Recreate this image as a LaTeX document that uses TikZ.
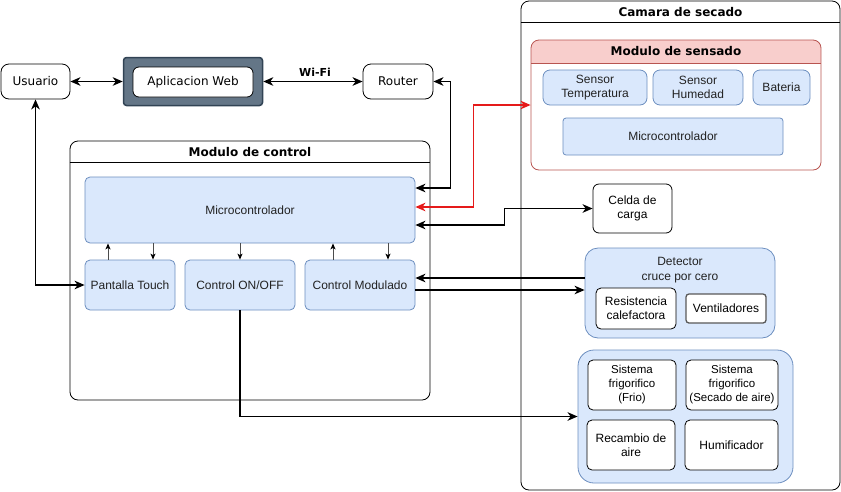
\documentclass[tikz,border=0pt]{standalone}
\usepackage{fontspec}
\setmainfont{Liberation Sans}
\newfontfamily\dvs{DejaVu Sans}
\usetikzlibrary{arrows.meta,positioning}

\definecolor{bluefill}{HTML}{DAE8FC}
\definecolor{blueline}{HTML}{6C8EBF}
\definecolor{pinkfill}{HTML}{F8CECC}
\definecolor{pinkline}{HTML}{B85450}
\definecolor{slatefill}{HTML}{647687}
\definecolor{slateline}{HTML}{314354}
\definecolor{txtgray}{HTML}{222222}
\definecolor{linkred}{HTML}{E51A1A}

\tikzset{
  blk/.style={draw=blueline, fill=bluefill, rounded corners=5, text=txtgray,
    font=\fontsize{12}{14}\selectfont, align=center, inner sep=0pt},
  wbox/.style={draw=black, fill=white, rounded corners=5,
    font=\fontsize{12}{14}\selectfont, align=center, inner sep=0pt},
  ext/.style={draw, fill=white, rounded corners=8,
    font=\dvs\fontsize{12}{14}\selectfont, inner sep=0pt},
  frame/.style={draw, rounded corners=8, inner sep=0pt},
  ttl/.style={font=\dvs\bfseries\fontsize{12}{14}\selectfont},
  conn/.style={line width=1.8pt},
  small/.style={draw=black!70, line width=1pt, -{Stealth[length=6pt,width=5pt,inset=1.5pt,black]}}
}

\begin{document}
\begin{tikzpicture}[x=1pt,y=-1pt,line width=0.8pt,>={Stealth[length=10pt,width=8.5pt,inset=3pt]}]
  \useasboundingbox (0,0) rectangle (841,491);

  % exterior
  \node[ext, minimum width=69, minimum height=35] (usr) at (35.5,81.5) {Usuario};
  \node[draw=slateline, fill=slatefill, line width=1.5pt, rounded corners=3,
        minimum width=139, minimum height=48] (app) at (193,81.5) {};
  \node[ext, rounded corners=6, minimum width=120, minimum height=30] (appin) at (193,82) {Aplicacion Web};
  \node[ext, minimum width=70, minimum height=35] (rt) at (398,81.5) {Router};
  \node[font=\dvs\bfseries\fontsize{11}{13}\selectfont] (wifi) at (315,72) {Wi-Fi};

  % modulo de control
  \node[frame, minimum width=360, minimum height=259] (ctl) at (250,270.5) {};
  \draw ([yshift=-22]ctl.north west) -- ([yshift=-22]ctl.north east);
  \node[ttl] (ctlt) at ([yshift=-11]ctl.north) {Modulo de control};
  \node[blk, minimum width=330, minimum height=66] (mc) at (250,210) {Microcontrolador};
  \node[blk, minimum width=90, minimum height=50] (pt) at (130,285) {Pantalla Touch};
  \node[blk, minimum width=110, minimum height=50] (onoff) at (240,285) {Control ON/OFF};
  \node[blk, minimum width=110, minimum height=50] (cm) at (360,285) {Control Modulado};

  % camara de secado
  \node[frame, minimum width=319, minimum height=489] (cam) at (680.5,245.5) {};
  \draw ([yshift=-22]cam.north west) -- ([yshift=-22]cam.north east);
  \node[ttl] (camt) at ([yshift=-11]cam.north) {Camara de secado};

  % modulo de sensado
  \begin{scope}
    \clip[rounded corners=8] (531,40) rectangle (821,170);
    \fill[pinkfill] (531,40) rectangle (821,63);
  \end{scope}
  \node[draw=pinkline, rounded corners=8, inner sep=0pt,
        minimum width=290, minimum height=130] (sens) at (676,105) {};
  \draw[pinkline] (531,63) -- (821,63);
  \node[ttl] (senst) at ([yshift=-11.5]sens.north) {Modulo de sensado};
  \node[blk, rounded corners=7, minimum width=104, minimum height=35] (st) at (595,87.5) {Sensor\\Temperatura};
  \node[blk, rounded corners=7, minimum width=90, minimum height=35] (sh) at (698,87.5) {Sensor\\Humedad};
  \node[blk, rounded corners=7, minimum width=57, minimum height=35] (bat) at (781.5,87.5) {Bateria};
  \node[blk, rounded corners=3, minimum width=220, minimum height=37] (smc) at (673,136.5) {Microcontrolador};

  \node[wbox, rounded corners=6, minimum width=79, minimum height=49] (celda) at (632.5,208.5) {Celda de\\carga};

  % detector
  \node[blk, rounded corners=13, minimum width=190, minimum height=90] (det) at (680,293) {};
  \node[text=txtgray, font=\fontsize{12}{15}\selectfont, align=center] (dett) at (680,270) {Detector\\cruce por cero};
  \node[wbox, minimum width=80, minimum height=41] (res) at (636,308.5) {Resistencia\\calefactora};
  \node[wbox, draw=black!65, line width=1.3pt, rounded corners=3,
        minimum width=80, minimum height=29] (ven) at (726,308.5) {Ventiladores};

  % actuadores
  \node[blk, rounded corners=16, minimum width=215, minimum height=133] (grp) at (685.5,416.5) {};
  \node[wbox, font=\fontsize{11.5}{14}\selectfont, minimum width=88, minimum height=50] (sf1) at (632,385) {Sistema\\frigorifico\\(Frio)};
  \node[wbox, font=\fontsize{11.5}{14}\selectfont, minimum width=92, minimum height=50] (sf2) at (732,385) {Sistema\\frigorifico\\(Secado de aire)};
  \node[wbox, minimum width=88, minimum height=50] (rec) at (631,445) {Recambio de\\aire};
  \node[wbox, minimum width=93, minimum height=50] (hum) at (731.5,445) {Humificador};

  % conexiones
  \draw[conn,<->] (usr) -- (app);
  \draw[conn,<->] (app) -- (rt);
  \draw[conn,<->] (pt.west) -| (usr.south);
  \draw[conn,<->] ([yshift=22]mc.east) -- ++(35,0) |- (rt.east);
  \draw[conn,<->,linkred] ([yshift=3]mc.east) -- ++(58,0) |- (sens.west);
  \draw[conn,<->] ([yshift=-15]mc.east) -- ++(89,0) |- (celda.west);
  \coordinate (cmA) at ([yshift=7]cm.east);
  \coordinate (cmB) at ([yshift=-5]cm.east);
  \draw[conn,<-] (cmA) -- (cmA -| det.west);
  \draw[conn,->] (cmB) -- (cmB -| det.west);
  \draw[conn,->] (onoff.south) |- (grp.west);

  \draw[small] ([xshift=-22]pt.north) -- ([xshift=-142]mc.south);
  \draw[small] ([xshift=-97]mc.south) -- ([xshift=23]pt.north);
  \draw[small] ([xshift=-10]mc.south) -- (onoff.north);
  \draw[small] ([xshift=-27]cm.north) -- ([xshift=83]mc.south);
  \draw[small] ([xshift=138]mc.south) -- ([xshift=28]cm.north);
\end{tikzpicture}
\end{document}
